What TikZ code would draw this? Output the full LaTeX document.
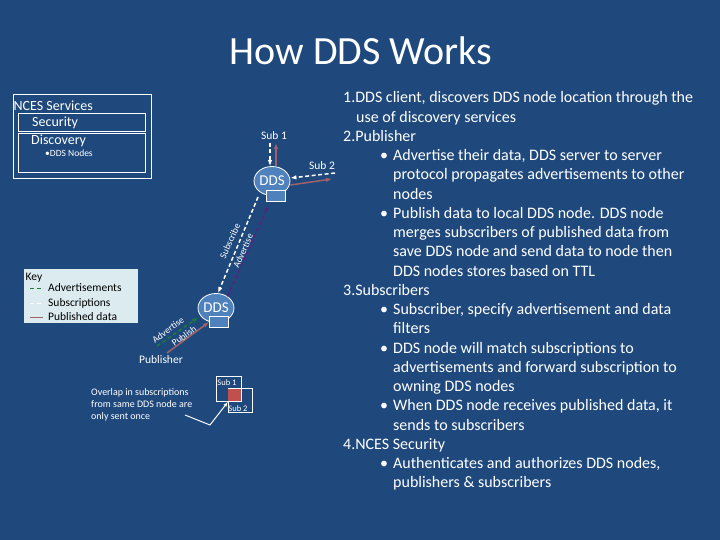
\documentclass[tikz,border=0pt]{standalone}
\usepackage{fontspec}
\setmainfont{Carlito}
\usepackage{xcolor}
\usetikzlibrary{positioning, arrows.meta, shapes.geometric}
\definecolor{slidebg}{HTML}{1F497D}
\definecolor{ddsblue}{HTML}{4F81BD}
\definecolor{pubred}{HTML}{A0616A}
\definecolor{advgreen}{HTML}{1E7B3C}
\definecolor{advpurple}{HTML}{5B1F7F}
\definecolor{overlapred}{HTML}{C0504D}
\definecolor{keybg}{HTML}{DCEBF0}
\newcommand{\bulletline}[1]{\makebox[50pt][l]{\hspace*{37pt}\textbullet}#1}
\newcommand{\contline}[1]{\hspace*{50pt}#1}
\begin{document}
\begin{tikzpicture}[x=1pt, y=-1pt,
            every node/.style={text=white, inner sep=0pt},
            panel/.style={draw=white, line width=.8pt, rectangle, anchor=north west},
            ddsnode/.style={draw=white, line width=.8pt, ellipse, fill=ddsblue, minimum width=36pt, minimum height=29pt, font=\fontsize{15}{15}\selectfont},
            disk/.style={draw=white, line width=.8pt, cylinder, shape border rotate=90, aspect=1.5, fill=ddsblue, minimum width=19pt, minimum height=11pt},
            big/.style={font=\fontsize{14}{16}\selectfont},
            small/.style={font=\fontsize{11.5}{13}\selectfont},
            tiny/.style={font=\fontsize{9.5}{11}\selectfont},
            boxlabel/.style={font=\fontsize{8.5}{10}\selectfont},
            sublabel/.style={font=\fontsize{9.5}{11}\selectfont, rotate=66},
            advlabel/.style={font=\fontsize{9.5}{11}\selectfont, rotate=36},
            keytext/.style={font=\fontsize{11.5}{13}\selectfont, text=black, anchor=west},
            subline/.style={draw=white, line width=1.5pt, dash pattern=on 4pt off 2.5pt},
            advline/.style={draw=advgreen, line width=1.5pt, dash pattern=on 4pt off 2.5pt},
            pubdash/.style={draw=advpurple, line width=1.5pt, dash pattern=on 4pt off 2.5pt},
            publine/.style={draw=pubred, line width=1.5pt}
        ]
        \fill[slidebg] (0,0) rectangle (720,540);
        \useasboundingbox (0,0) rectangle (720,540);

        % title
        \node[font=\fontsize{40}{44}\selectfont] (title) at (361,51) {How DDS Works};

        % services panel
        \node[panel, minimum width=138pt, minimum height=84pt] (services) at (12.7,94.3) {};
        \node[panel, minimum width=127pt, minimum height=18pt] (security) at (18.3,113) {};
        \node[panel, minimum width=127pt, minimum height=39pt] (discovery) at (18.3,133.3) {};
        \node[big, anchor=west] (servicestxt) at (13.5,105.5) {NCES Services};
        \node[big, anchor=west] (securitytxt) at (32,122.5) {Security};
        \node[big, anchor=west] (discoverytxt) at (31,140.5) {Discovery};
        \node[tiny, anchor=west] (ddsnodes) at (45,153) {\textbullet DDS Nodes};

        % upper DDS
        \node[ddsnode] (ddsup) at (272,181) {DDS};
        \node[disk] (diskup) at (275.5,196.5) {};
        \node[small] (subone) at (274,136) {Sub 1};
        \node[small] (subtwo) at (322,166) {Sub 2};
        \coordinate (subonefoot) at (270,143);
        \coordinate (pubonehead) at (276,143);
        \coordinate (subtwofoot) at (335,173);
        \coordinate (pubtwohead) at (332,179);
        \draw[subline, -{Latex[length=6pt]}] (subonefoot) -- ([xshift=-2pt]ddsup.north);
        \draw[publine, -{Latex[length=6pt]}] ([xshift=4pt]ddsup.north) -- (pubonehead);
        \draw[subline, -{Latex[length=6pt]}] (subtwofoot) -- ([yshift=3pt]ddsup.east);
        \draw[publine, -{Latex[length=6pt]}] ([yshift=-4pt]ddsup.east) -- (pubtwohead);

        % lower DDS
        \node[ddsnode] (ddslow) at (216,308) {DDS};
        \node[disk] (disklow) at (219,322) {};
        \node[small] (publisher) at (161,360) {Publisher};
        \coordinate (subfoot) at (258,197);
        \coordinate (advfoot) at (157,346);
        \coordinate (pubfoot) at (167,353);
        \draw[subline, -{Latex[length=6pt]}] (subfoot) -- ([xshift=2pt]ddslow.north);
        \draw[pubdash, -{Latex[length=6pt]}] (ddslow.45) -- ([xshift=-7pt,yshift=-3pt]diskup.south);
        \draw[advline, -{Latex[length=6pt]}] (advfoot) -- ([xshift=-5pt,yshift=1pt]ddslow.south west);
        \draw[publine, -{Latex[length=6pt]}] (pubfoot) -- (disklow.west);
        \node[sublabel] (subscribe) at (230,241) {Subscribe};
        \node[sublabel] (advertise) at (243,251) {Advertise};
        \node[advlabel] (advtxt) at (168,330) {Advertise};
        \node[advlabel] (pubtxt) at (184,336) {Publish};

        % key
        \node[panel, draw=none, fill=keybg, minimum width=114pt, minimum height=54pt] (key) at (24,269) {};
        \node[keytext] (keytxt) at (25.5,278) {Key};
        \node[keytext] (advkey) at (48,288) {Advertisements};
        \node[keytext] (subkey) at (48,303) {Subscriptions};
        \node[keytext] (pubkey) at (48,317) {Published data};
        \draw[advline, line width=.7pt] ([xshift=-18pt]advkey.west) -- ([xshift=-5pt]advkey.west);
        \draw[subline, line width=.7pt] ([xshift=-18pt]subkey.west) -- ([xshift=-5pt]subkey.west);
        \draw[publine, line width=.7pt] ([xshift=-18pt]pubkey.west) -- ([xshift=-5pt]pubkey.west);

        % overlap
        \node[panel, minimum width=25pt, minimum height=25pt] (subonebox) at (216,376) {};
        \node[panel, minimum width=24pt, minimum height=24pt] (subtwobox) at (228,388) {};
        \node[panel, draw=none, fill=overlapred, minimum width=13pt, minimum height=12pt] (overlap) at (228,389) {};
        \node[boxlabel] (subonetxt) at (227,383) {Sub 1};
        \node[boxlabel] (subtwotxt) at (238,409) {Sub 2};
        \node[font=\fontsize{10}{12}\selectfont, align=left, anchor=west] (overlaptxt) at (91,405) {Overlap in subscriptions\\from same DDS node are\\only sent once};
        \coordinate (overlapfoot) at (185,415);
        \coordinate (bend) at (210,425);
        \draw[draw=white, line width=1pt, -{Latex[length=5pt]}] (overlapfoot) -- (bend) -- (overlap.south west);

        % listing
        \node[font=\fontsize{16}{19.25}\selectfont, align=left, anchor=north west] (listing) at (343,91.5) {1.DDS client, discovers DDS node location through the\\
\hspace*{13pt}use of discovery services\\
2.Publisher\\
\bulletline{Advertise their data, DDS server to server}\\
\contline{protocol propagates advertisements to other}\\
\contline{nodes}\\
\bulletline{Publish data to local DDS node. DDS node}\\
\contline{merges subscribers of published data from}\\
\contline{save DDS node and send data to node then}\\
\contline{DDS nodes stores based on TTL}\\
3.Subscribers\\
\bulletline{Subscriber, specify advertisement and data}\\
\contline{filters}\\
\bulletline{DDS node will match subscriptions to}\\
\contline{advertisements and forward subscription to}\\
\contline{owning DDS nodes}\\
\bulletline{When DDS node receives published data, it}\\
\contline{sends to subscribers}\\
4.NCES Security\\
\bulletline{Authenticates and authorizes DDS nodes,}\\
\contline{publishers \& subscribers}};
\end{tikzpicture}
\end{document}
